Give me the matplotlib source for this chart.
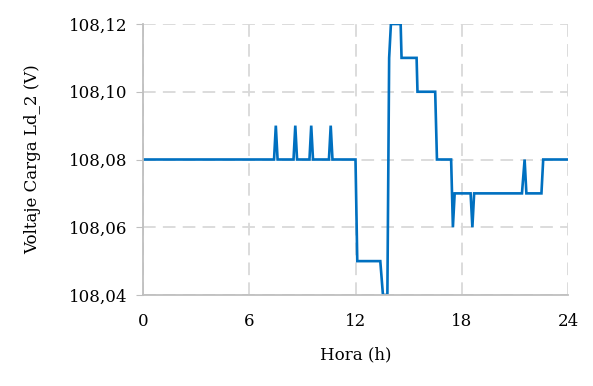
import matplotlib.pyplot as plt
from matplotlib.ticker import FuncFormatter

# Datos
hora = [0, 7.4, 7.5, 7.6, 8.5, 8.6, 8.7, 9.4, 9.5, 9.6, 10.5, 10.6, 10.7,
        12.0, 12.1, 13.4, 13.55, 13.8, 13.9, 14.0, 14.55, 14.6, 15.45, 15.5,
        16.5, 16.6, 17.4, 17.5, 17.6, 18.5, 18.6, 18.7, 21.4, 21.55, 21.65,
        22.5, 22.6, 24]
voltaje = [108.08, 108.08, 108.09, 108.08, 108.08, 108.09, 108.08, 108.08,
           108.09, 108.08, 108.08, 108.09, 108.08,
           108.08, 108.05, 108.05, 108.04, 108.04, 108.11, 108.12, 108.12,
           108.11, 108.11, 108.10,
           108.10, 108.08, 108.08, 108.06, 108.07, 108.07, 108.06, 108.07,
           108.07, 108.08, 108.07,
           108.07, 108.08, 108.08]

xticks = [0, 6, 12, 18, 24]
yticks = [108.04, 108.06, 108.08, 108.10, 108.12]

plt.rcParams['font.family'] = ['DejaVu Serif']

fig = plt.figure(figsize=(5.93, 3.86), dpi=100)
ax = fig.add_axes([143/593, 1 - 295/386, 425/593, 271/386])

ax.plot(hora, voltaje, color='#0070C0', linewidth=1.9, solid_joinstyle='miter', clip_on=True)

ax.set_xlim(0, 24)
ax.set_ylim(108.04, 108.12)
ax.set_xticks(xticks)
ax.set_yticks(yticks)
ax.yaxis.set_major_formatter(FuncFormatter(lambda v, p: f'{v:.2f}'.replace('.', ',')))

ax.grid(True, color='#d9d9d9', linestyle=(0, (7, 4)), linewidth=1.3)
ax.set_axisbelow(True)
for s in ['top', 'right']:
    ax.spines[s].set_visible(False)
for s in ['left', 'bottom']:
    ax.spines[s].set_color('#bfbfbf')
    ax.spines[s].set_linewidth(1.3)

ax.tick_params(axis='y', length=5, color='#bfbfbf', labelsize=12, pad=6)
ax.tick_params(axis='x', length=0, labelsize=12, pad=13)

ax.set_xlabel('Hora (h)', fontsize=12, labelpad=12)
ax.set_ylabel('Voltaje Carga Ld_2 (V)', fontsize=12, labelpad=20)

fig.savefig('out.png', dpi=100)
